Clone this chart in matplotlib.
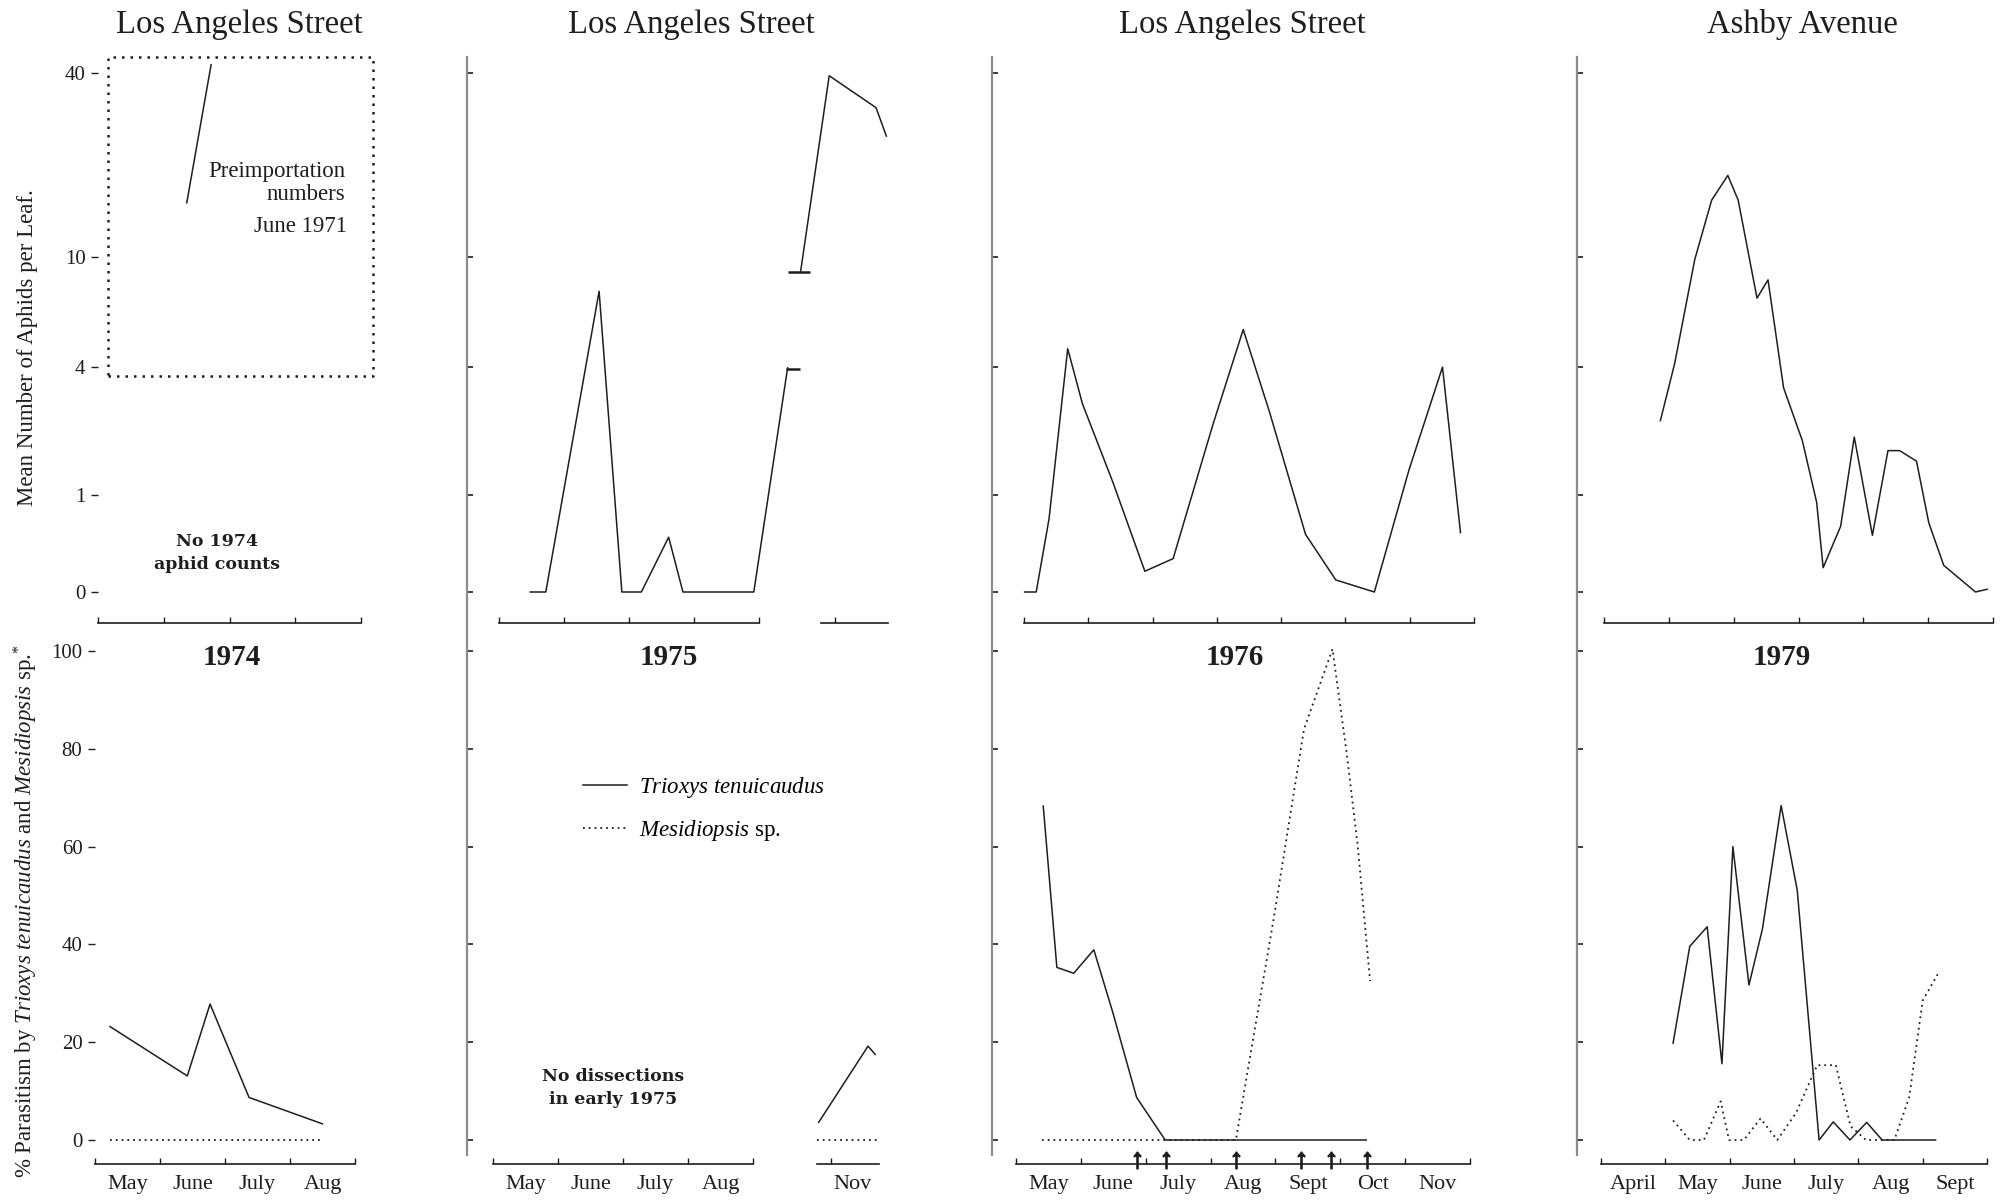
import numpy as np
import matplotlib
matplotlib.use('Agg')
import matplotlib.pyplot as plt
from matplotlib.lines import Line2D

plt.rcParams['font.family'] = 'Liberation Serif'
plt.rcParams['mathtext.fontset'] = 'custom'
plt.rcParams['mathtext.rm'] = 'Liberation Serif'
plt.rcParams['mathtext.it'] = 'Liberation Serif:italic'
plt.rcParams['mathtext.bf'] = 'Liberation Serif:bold'

W, H = 2002, 1204
INK = '#1e1e1e'

# x values are months counted from the first tick of each panel

# 1974 - no aphid counts, parasitism only
tri74_x = [0.23, 1.42, 1.77, 2.37, 3.50]
tri74 = [23.2, 13.1, 27.8, 8.7, 3.3]
mes74_x = [0.23, 3.50]
mes74 = [0, 0]
# preimportation numbers, June 1971
pre_x = [1.35, 1.72]
pre_y = [15.2, 42.5]
box_x = [0.15, 4.18]
box_y = [3.7, 45.0]

# 1975
aph75a_x = [0.48, 0.72, 1.54, 1.89, 2.19, 2.61, 2.83, 3.92, 4.44]
aph75a = [0, 0, 7.6, 0, 0, 0.48, 0, 0, 3.97]
aph75b_x = [4.64, 5.08, 5.80, 5.96]
aph75b = [8.9, 39.2, 31.0, 25.1]
brk75_x = [4.53, 4.62]
brk75_y = [3.92, 8.84]
tri75_x = [5.01, 5.77, 5.88]
tri75 = [3.6, 19.2, 17.5]
mes75_x = [4.99, 5.91]
mes75 = [0, 0]

# 1976
aph76_x = [0.01, 0.19, 0.39, 0.68, 0.91, 1.38, 1.88, 2.32, 2.94, 3.41, 3.82,
           4.38, 4.85, 5.45, 5.99, 6.51, 6.79]
aph76 = [0, 0, 0.69, 4.70, 2.84, 1.20, 0.16, 0.27, 2.32, 5.54, 2.62,
         0.51, 0.09, 0.0, 1.40, 4.0, 0.53]
tri76_x = [0.42, 0.63, 0.89, 1.20, 1.49, 1.86, 2.30, 5.40]
tri76 = [68.3, 35.3, 34.1, 38.9, 26.2, 8.7, 0, 0]
mes76_x = [0.40, 3.39, 3.97, 4.44, 4.88, 5.10, 5.27, 5.46]
mes76 = [0, 0, 45.0, 84.0, 100.4, 79.0, 60.0, 32.5]
arr76_x = [1.86, 2.31, 3.39, 4.39, 4.85, 5.41]
arrow_y = -4.0

# 1979
aph79_x = [0.87, 1.09, 1.40, 1.66, 1.91, 2.07, 2.36, 2.53, 2.77, 3.06, 3.28,
           3.38, 3.65, 3.86, 4.14, 4.38, 4.56, 4.82, 5.01, 5.24, 5.73, 5.91]
aph79 = [2.41, 4.13, 9.8, 15.5, 18.7, 15.5, 7.19, 8.33, 3.31, 1.95, 0.90,
         0.19, 0.60, 2.03, 0.50, 1.75, 1.75, 1.55, 0.64, 0.21, 0, 0.02]
tri79_x = [1.12, 1.38, 1.65, 1.88, 2.05, 2.30, 2.51, 2.80, 3.05, 3.39, 3.61,
           3.87, 4.13, 4.37, 5.20]
tri79 = [19.8, 39.6, 43.6, 15.6, 60.0, 31.7, 43.2, 68.4, 51.1, 0, 3.7,
         0, 3.6, 0, 0]
mes79_x = [1.12, 1.38, 1.60, 1.86, 1.99, 2.22, 2.48, 2.74, 3.03, 3.36, 3.65,
           3.88, 4.12, 4.56, 4.79, 5.00, 5.26]
mes79 = [4.0, 0, 0, 7.9, 0, 0, 4.4, 0, 5.5, 15.3, 15.3,
         2.8, 0, 0, 8.7, 28.5, 34.5]

aphid_ticks = [0, 1, 4, 10, 40]
pct_ticks = [0, 20, 40, 60, 80, 100]

sites = ['Los Angeles Street', 'Los Angeles Street', 'Los Angeles Street', 'Ashby Avenue']
years = ['1974', '1975', '1976', '1979']
months = [['May', 'June', 'July', 'Aug'],
          ['May', 'June', 'July', 'Aug'],
          ['May', 'June', 'July', 'Aug', 'Sept', 'Oct', 'Nov'],
          ['April', 'May', 'June', 'July', 'Aug', 'Sept']]


def fwd(v):
    return np.log10(np.clip(np.asarray(v, float) + 1, 1e-6, None))


def inv(t):
    return 10 ** np.asarray(t, float) - 1


def box(x0, x1, ytop, ybot):
    return [x0 / W, 1 - ybot / H, (x1 - x0) / W, (ybot - ytop) / H]


TOP = (73, 592)
BOT = (651, 1140)
OFF_TOP = 31 / 519
OFF_BOT = 24 / 489
MONTH_SIZE = 16
MONTH_PAD = 8

# layout per column: x extent of top / bottom axes, xlim, spine pixel
layout = [
    dict(top=(98, 361), bot=(95, 355), xmax=4, spine=None),
    dict(top=(499, 889), bot=(493, 883), xmax=6, spine=467),
    dict(top=(1024, 1474), bot=(1016, 1470), xmax=7, spine=992),
    dict(top=(1604, 1993), bot=(1601, 1987), xmax=6, spine=1577),
]
title_x = [239, 691, 1242, 1802]
year_x = [232, 669, 1235, 1782]

fig = plt.figure(figsize=(W / 100, H / 100), dpi=100)

axes_top, axes_bot = [], []
for i, lay in enumerate(layout):
    nm = len(months[i])
    for row in (0, 1):
        xs = lay['top'] if row == 0 else lay['bot']
        ys = TOP if row == 0 else BOT
        ax = fig.add_axes(box(xs[0], xs[1], ys[0], ys[1]))
        ax.set_xlim(0, lay['xmax'])
        if row == 0:
            ax.set_yscale('function', functions=(fwd, inv))
            ax.set_ylim(0, 40)
            ax.set_yticks(aphid_ticks)
            off = OFF_TOP
        else:
            ax.set_ylim(0, 100)
            ax.set_yticks(pct_ticks)
            off = OFF_BOT
        for s in ('top', 'right'):
            ax.spines[s].set_visible(False)
        ax.spines['left'].set_visible(False)
        ax.spines['bottom'].set_position(('axes', -off))
        ax.spines['bottom'].set_bounds(0, nm)
        ax.spines['bottom'].set_color(INK)
        ax.spines['bottom'].set_linewidth(1.2)
        ax.set_xticks(range(nm + 1))
        ax.set_xticklabels([])
        ax.set_xticks([k + 0.5 for k in range(nm)], minor=True)
        if row == 1:
            ax.set_xticklabels(months[i], minor=True)
        else:
            ax.set_xticklabels([], minor=True)
        ax.tick_params(axis='x', which='major', direction='in', length=4,
                       width=1, color=INK)
        ax.tick_params(axis='x', which='minor', length=0, pad=MONTH_PAD,
                       labelsize=MONTH_SIZE, labelcolor=INK)
        ax.yaxis.set_minor_locator(matplotlib.ticker.NullLocator())
        if lay['spine'] is None:
            ax.tick_params(axis='y', direction='out', length=5, width=1,
                           pad=4, labelsize=15, color=INK, labelcolor=INK)
        else:
            ax.spines['left'].set_position(('outward', (xs[0] - lay['spine']) * 0.72))
            ax.tick_params(axis='y', direction='in', length=4, width=1.2,
                           labelleft=False, color=INK)
        ax.patch.set_alpha(0)
        (axes_top if row == 0 else axes_bot).append(ax)

    if lay['spine'] is not None:
        sx = lay['spine'] / W
        fig.add_artist(Line2D([sx, sx], [1 - 57 / H, 1 - 1155 / H],
                              transform=fig.transFigure, color='0.55', lw=1.6))

# broken Nov axis segment in 1975
for ax, off, seg, lbl in ((axes_top[1], OFF_TOP, (4.95, 5.98), False),
                          (axes_bot[1], OFF_BOT, (4.98, 5.94), True)):
    sec = ax.secondary_xaxis(-off)
    sec.spines['bottom'].set_bounds(*seg)
    sec.spines['bottom'].set_color(INK)
    sec.spines['bottom'].set_linewidth(1.2)
    sec.set_xticks([seg[0] + 0.22])
    sec.set_xticklabels([])
    sec.set_xticks([seg[0] + 0.55], minor=True)
    sec.set_xticklabels(['Nov'] if lbl else [''], minor=True)
    sec.tick_params(axis='x', which='major', direction='in', length=4,
                    width=1, color=INK)
    sec.tick_params(axis='x', which='minor', length=0, pad=MONTH_PAD,
                    labelsize=MONTH_SIZE, labelcolor=INK)

solid = dict(color=INK, lw=1.1, clip_on=False)
dotted = dict(color=INK, lw=1.3, ls=(0, (1, 2.2)), clip_on=False)

# 1974
a = axes_top[0]
a.plot([box_x[0], box_x[1], box_x[1], box_x[0], box_x[0]],
       [box_y[0], box_y[0], box_y[1], box_y[1], box_y[0]],
       color=INK, lw=1.8, ls=(0, (1, 2.4)), clip_on=False)
a.plot(pre_x, pre_y, **solid)
b = axes_bot[0]
b.plot(tri74_x, tri74, **solid)
b.plot(mes74_x, mes74, **dotted)

# 1975
a = axes_top[1]
a.plot(aph75a_x, aph75a, **solid)
a.plot(aph75b_x, aph75b, **solid)
a.plot(brk75_x[:1], brk75_y[:1], ls='none', marker='_', ms=10, mew=1.8,
       color=INK, clip_on=False)
a.plot(brk75_x[1:], brk75_y[1:], ls='none', marker='_', ms=16, mew=1.8,
       color=INK, clip_on=False)
b = axes_bot[1]
b.plot(tri75_x, tri75, label=r'$\mathit{Trioxys\ tenuicaudus}$', **solid)
b.plot(mes75_x, mes75, label=r'$\mathit{Mesidiopsis}$ sp.', **dotted)

# 1976
a = axes_top[2]
a.plot(aph76_x, aph76, **solid)
b = axes_bot[2]
b.plot(tri76_x, tri76, **solid)
b.plot(mes76_x, mes76, **dotted)
b.plot(arr76_x, [arrow_y] * len(arr76_x), ls='none', marker=r'$\uparrow$',
       ms=12, color=INK, clip_on=False)

# 1979
a = axes_top[3]
a.plot(aph79_x, aph79, **solid)
b = axes_bot[3]
b.plot(tri79_x, tri79, **solid)
b.plot(mes79_x, mes79, **dotted)

# legend in the 1975 panel
leg = axes_bot[1].legend(loc='upper left',
                         bbox_to_anchor=(583 / W, 1 - 775 / H),
                         bbox_transform=fig.transFigure, frameon=False,
                         fontsize=16.5, handlelength=1.9, handletextpad=0.55,
                         labelspacing=0.8, borderpad=0, borderaxespad=0)


def ftext(x, y, s, **kw):
    fig.text(x / W, 1 - y / H, s, color=INK, **kw)


for i in range(4):
    ftext(title_x[i], 25, sites[i], fontsize=23.5, ha='center', va='center')
    ftext(year_x[i], 657, years[i], fontsize=21, fontweight='bold',
          ha='center', va='center')

ftext(345, 171, 'Preimportation', fontsize=16.5, ha='right', va='center')
ftext(345, 195, 'numbers', fontsize=16.5, ha='right', va='center')
ftext(347, 227, 'June 1971', fontsize=16.5, ha='right', va='center')
ftext(217, 553, 'No 1974\naphid counts', fontsize=12.5, family='DejaVu Serif',
      fontweight='bold', ha='center', va='center', linespacing=1.5)
ftext(613, 1088, 'No dissections\nin early 1975', fontsize=12.5,
      family='DejaVu Serif', fontweight='bold', ha='center', va='center',
      linespacing=1.5)

ftext(28, 348, 'Mean Number of Aphids per Leaf.', fontsize=16.5,
      rotation=90, ha='center', va='center')
ftext(26, 911, r'% Parasitism by $\mathit{Trioxys\ tenuicaudus}$ and '
      r'$\mathit{Mesidiopsis}$ sp.$^{*}$', fontsize=16.5, rotation=90,
      ha='center', va='center')

fig.savefig('out.png', dpi=100, facecolor='white')
